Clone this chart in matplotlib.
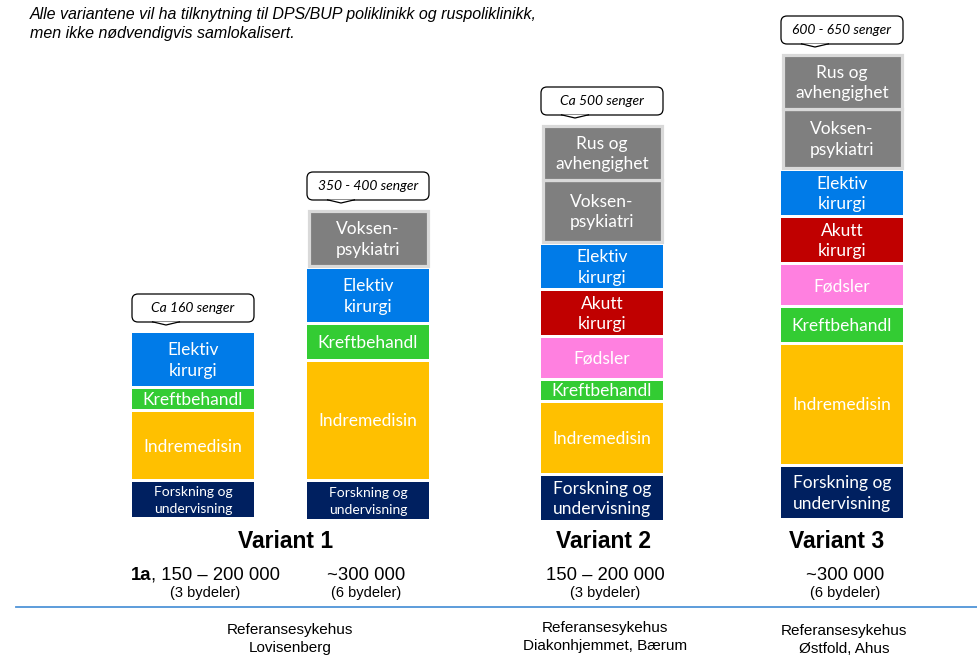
import matplotlib.pyplot as plt
from matplotlib.patches import FancyBboxPatch, Polygon

# ---- data (heights in px-like units, bottom -> top)
col1_names = ["Forskning og\nundervisning", "Indremedisin", "Kreftbehandl", "Elektiv\nkirurgi"]
col1_vals = [35, 67, 20, 53]

col2_names = ["Forskning og\nundervisning", "Indremedisin", "Kreftbehandl", "Elektiv\nkirurgi",
              "Voksen-\npsykiatri"]
col2_vals = [37, 117, 34, 53, 55]

col3_names = ["Forskning og\nundervisning", "Indremedisin", "Kreftbehandl", "Fødsler",
              "Akutt\nkirurgi", "Elektiv\nkirurgi", "Voksen-\npsykiatri", "Rus og\navhengighet"]
col3_vals = [44, 70, 19, 40, 44, 43, 62, 54]

col4_names = ["Forskning og\nundervisning", "Indremedisin", "Kreftbehandl", "Fødsler",
              "Akutt\nkirurgi", "Elektiv\nkirurgi", "Voksen-\npsykiatri", "Rus og\navhengighet"]
col4_vals = [51, 119, 34, 40, 44, 44, 59, 54]

bed_labels = ["Ca 160 senger", "350 - 400 senger", "Ca 500 senger", "600 - 650 senger"]

variant_names = ["Variant 1", "Variant 2", "Variant 3"]
population = ["150 – 200 000", "~300 000", "150 – 200 000", "~300 000"]
districts = ["(3 bydeler)", "(6 bydeler)", "(3 bydeler)", "(6 bydeler)"]
reference = ["Referansesykehus\nLovisenberg", "Referansesykehus\nDiakonhjemmet, Bærum",
             "Referansesykehus\nØstfold, Ahus"]

note = ("Alle variantene vil ha tilknytning til DPS/BUP poliklinikk og ruspoliklinikk,\n"
        "men ikke nødvendigvis samlokalisert.")

colors = {
    "Forskning": "#002060",
    "Indremedisin": "#ffc000",
    "Kreftbehandl": "#33cc33",
    "Fødsler": "#ff80e0",
    "Akutt": "#c00000",
    "Elektiv": "#007be8",
    "Voksen": "#7f7f7f",
    "Rus": "#7f7f7f",
}

def color_of(name):
    for k, c in colors.items():
        if name.startswith(k):
            return c
    return "#999999"

# ---- layout (pixel coordinates, y downwards)
W, H = 977, 668
col_x = [193, 368, 602, 842]
col_base = [517, 519, 520, 518]
col_w = 122
gap = 3
block_font = "Lato"
arial = ["Liberation Sans", "DejaVu Sans"]

fig = plt.figure(figsize=(W / 100, H / 100), dpi=100)
ax = fig.add_axes([0, 0, 1, 1])
ax.set_xlim(0, W)
ax.set_ylim(H, 0)
ax.axis("off")

columns = [(col1_names, col1_vals), (col2_names, col2_vals),
           (col3_names, col3_vals), (col4_names, col4_vals)]

for ci, (names, vals) in enumerate(columns):
    y = col_base[ci]
    prev_gray = False
    for name, v in zip(names, vals):
        gray = name.startswith(("Voksen", "Rus"))
        if not (prev_gray and gray) and y != col_base[ci]:
            y -= gap
        top = y - v
        c = color_of(name)
        if gray:
            ax.bar(col_x[ci], v, bottom=top, width=col_w - 3, color=c,
                   edgecolor="#d9d9d9", linewidth=2.3)
        else:
            ax.bar(col_x[ci], v, bottom=top, width=col_w, color=c, linewidth=0)
        fs, ls = 12.5, 1.35
        if name.startswith("Forskning") and ci < 2:
            fs, ls = 10, 1.45
        ax.text(col_x[ci], top + v / 2 + 1, name, ha="center", va="center",
                color="white", fontsize=fs, family=block_font, linespacing=ls)
        y = top
        prev_gray = gray

    # speech bubble with the bed count
    bw, bh = 122, 28
    bx0 = col_x[ci] - bw / 2
    by1 = y - 11
    by0 = by1 - bh
    box = FancyBboxPatch((bx0 + 4, by0 + 4), bw - 8, bh - 8,
                         boxstyle="round,pad=4,rounding_size=6",
                         facecolor="white", edgecolor="black", linewidth=0.9)
    ax.add_patch(box)
    px = col_x[ci] - 27
    ax.add_patch(Polygon([(px - 14, by1 - 0.3), (px, by1 + 3), (px + 14, by1 - 0.3)],
                         closed=False, facecolor="white", edgecolor="black",
                         linewidth=0.9, zorder=3))
    ax.text(col_x[ci], by0 + bh / 2, bed_labels[ci], ha="center", va="center",
            fontsize=10, style="italic", family=block_font, zorder=4)

# ---- note at the top
ax.text(30, 24, note, ha="left", va="center", fontsize=11.5, style="italic",
        family=arial, linespacing=1.3)

# ---- labels under the columns
variant_x = [286, 603, 837]
for x, t in zip(variant_x, variant_names):
    ax.text(x, 541, t, ha="center", va="center", fontsize=16.5,
            fontweight="bold", family=arial)

pop_x = [205, 366, 605, 845]
for i, (x, p, d) in enumerate(zip(pop_x, population, districts)):
    if i == 0:
        ax.text(151, 575, "1a", ha="right", va="center", fontsize=13.3,
                fontweight="bold", family=arial)
        ax.text(151, 575, ", " + p, ha="left", va="center", fontsize=13.3, family=arial)
    else:
        ax.text(x, 575, p, ha="center", va="center", fontsize=13.3, family=arial)
    ax.text(x, 593, d, ha="center", va="center", fontsize=10.5, family=arial)

ax.plot([16, W], [607, 607], color="#4f94d8", linewidth=1.3)

ref_x = [290, 605, 844]
ref_y = [639, 637, 640]
for x, y, t in zip(ref_x, ref_y, reference):
    ax.text(x, y, t, ha="center", va="center", fontsize=11, family=arial,
            linespacing=1.3)

fig.savefig("out.png", dpi=100)
